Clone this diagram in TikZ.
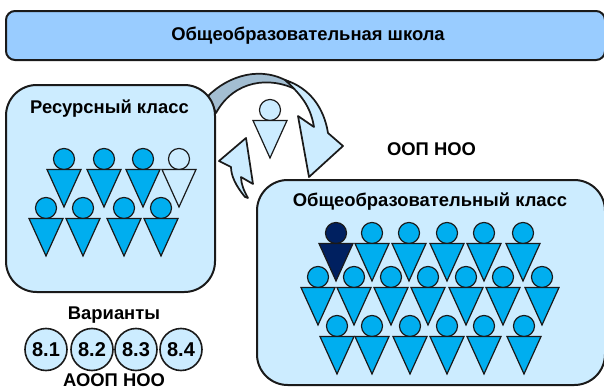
\documentclass[tikz,border=0pt]{standalone}
\usepackage{fontspec}
\setmainfont{Liberation Sans}
\definecolor{boxfill}{HTML}{CCECFF}
\definecolor{barfill}{HTML}{99CCFF}
\definecolor{person}{HTML}{00AEEF}
\definecolor{dark}{HTML}{002060}
\definecolor{backarrow}{HTML}{A3BED2}
\definecolor{edge}{HTML}{1A1A1A}
\tikzset{
  x=0.75pt,y=-0.75pt,
  panel/.style={draw=edge,line width=1.5pt,fill=boxfill},
  curved/.style={draw=edge,line width=1.3pt,line join=round},
  title/.style={font=\bfseries\fontsize{13.8}{16}\selectfont,inner sep=0pt,text=black},
  varcircle/.style={circle,draw=edge,line width=1.2pt,fill=boxfill,minimum size=31.5pt,inner sep=0pt,font=\bfseries\fontsize{15}{18}\selectfont},
  pic person/.style={draw=edge,line width=0.9pt,fill=#1},
}
\newcommand{\person}[3][person]{%
  \fill[pic person=#1] (#2,#3) circle[radius=7.9pt];
  \fill[pic person=#1] (#2-17,#3+10.5) -- (#2+17,#3+10.5) -- (#2,#3+48) -- cycle;
}
\begin{document}
\begin{tikzpicture}
\useasboundingbox (0,0) rectangle (604,389);
\draw[panel,fill=barfill,rounded corners=6.75pt] (6,11) rectangle (605,60);
\node[title] (t) at (308,36) {Общеобразовательная школа};
% back band of the curved arrow
\draw[curved,fill=backarrow] (208,96) .. controls (228,76) and (262,64) .. (292,84) -- (297,90) .. controls (270,76) and (234,80) .. (216,113) -- cycle;
% front of the curved arrow
\draw[curved,fill=boxfill] (285,80) .. controls (310,88) and (324,108) .. (328,133) -- (343,146) -- (309,177) -- (298,116) -- (314,127) .. controls (311,110) and (305,98) .. (285,80) -- cycle;
% small arrow
\draw[curved,fill=boxfill] (245,197) .. controls (236,186) and (231,176) .. (231,167) -- (219,161) -- (246,138) -- (253,184) -- (241,177) .. controls (241,184) and (244,191) .. (248,198) -- cycle;
\person[boxfill]{270}{110}
% panels
\draw[panel,rounded corners=23pt] (6,85) rectangle (215,292);
\node[title] at (109.5,109) {Ресурсный класс};
\draw[panel,rounded corners=23pt] (257,180) rectangle (605,385);
\node[title] at (430,202) {Общеобразовательный класс};
\node[title] at (431.5,149) {ООП НОО};
\foreach \x in {64,104,143} {\person{\x}{159}}
\person[boxfill]{179}{159}
\foreach \x in {46,83,124,161} {\person{\x}{208}}
\foreach \x in {372,409,447,484,523} {\person{\x}{233}}
\foreach \x in {318,354,391,428,466,503,542} {\person{\x}{277}}
\foreach \x in {337,372,410,447,484,524} {\person{\x}{326}}
\person[dark]{336}{233}
\node[title] at (114,315) {Варианты};
\node[varcircle] (v1) at (46,349.5) {8.1};
\node[varcircle] (v2) at (92,349.5) {8.2};
\node[varcircle] (v3) at (136,349.5) {8.3};
\node[varcircle] (v4) at (181,349.5) {8.4};
\node[title] at (114,380.5) {АООП НОО};
\end{tikzpicture}
\end{document}
